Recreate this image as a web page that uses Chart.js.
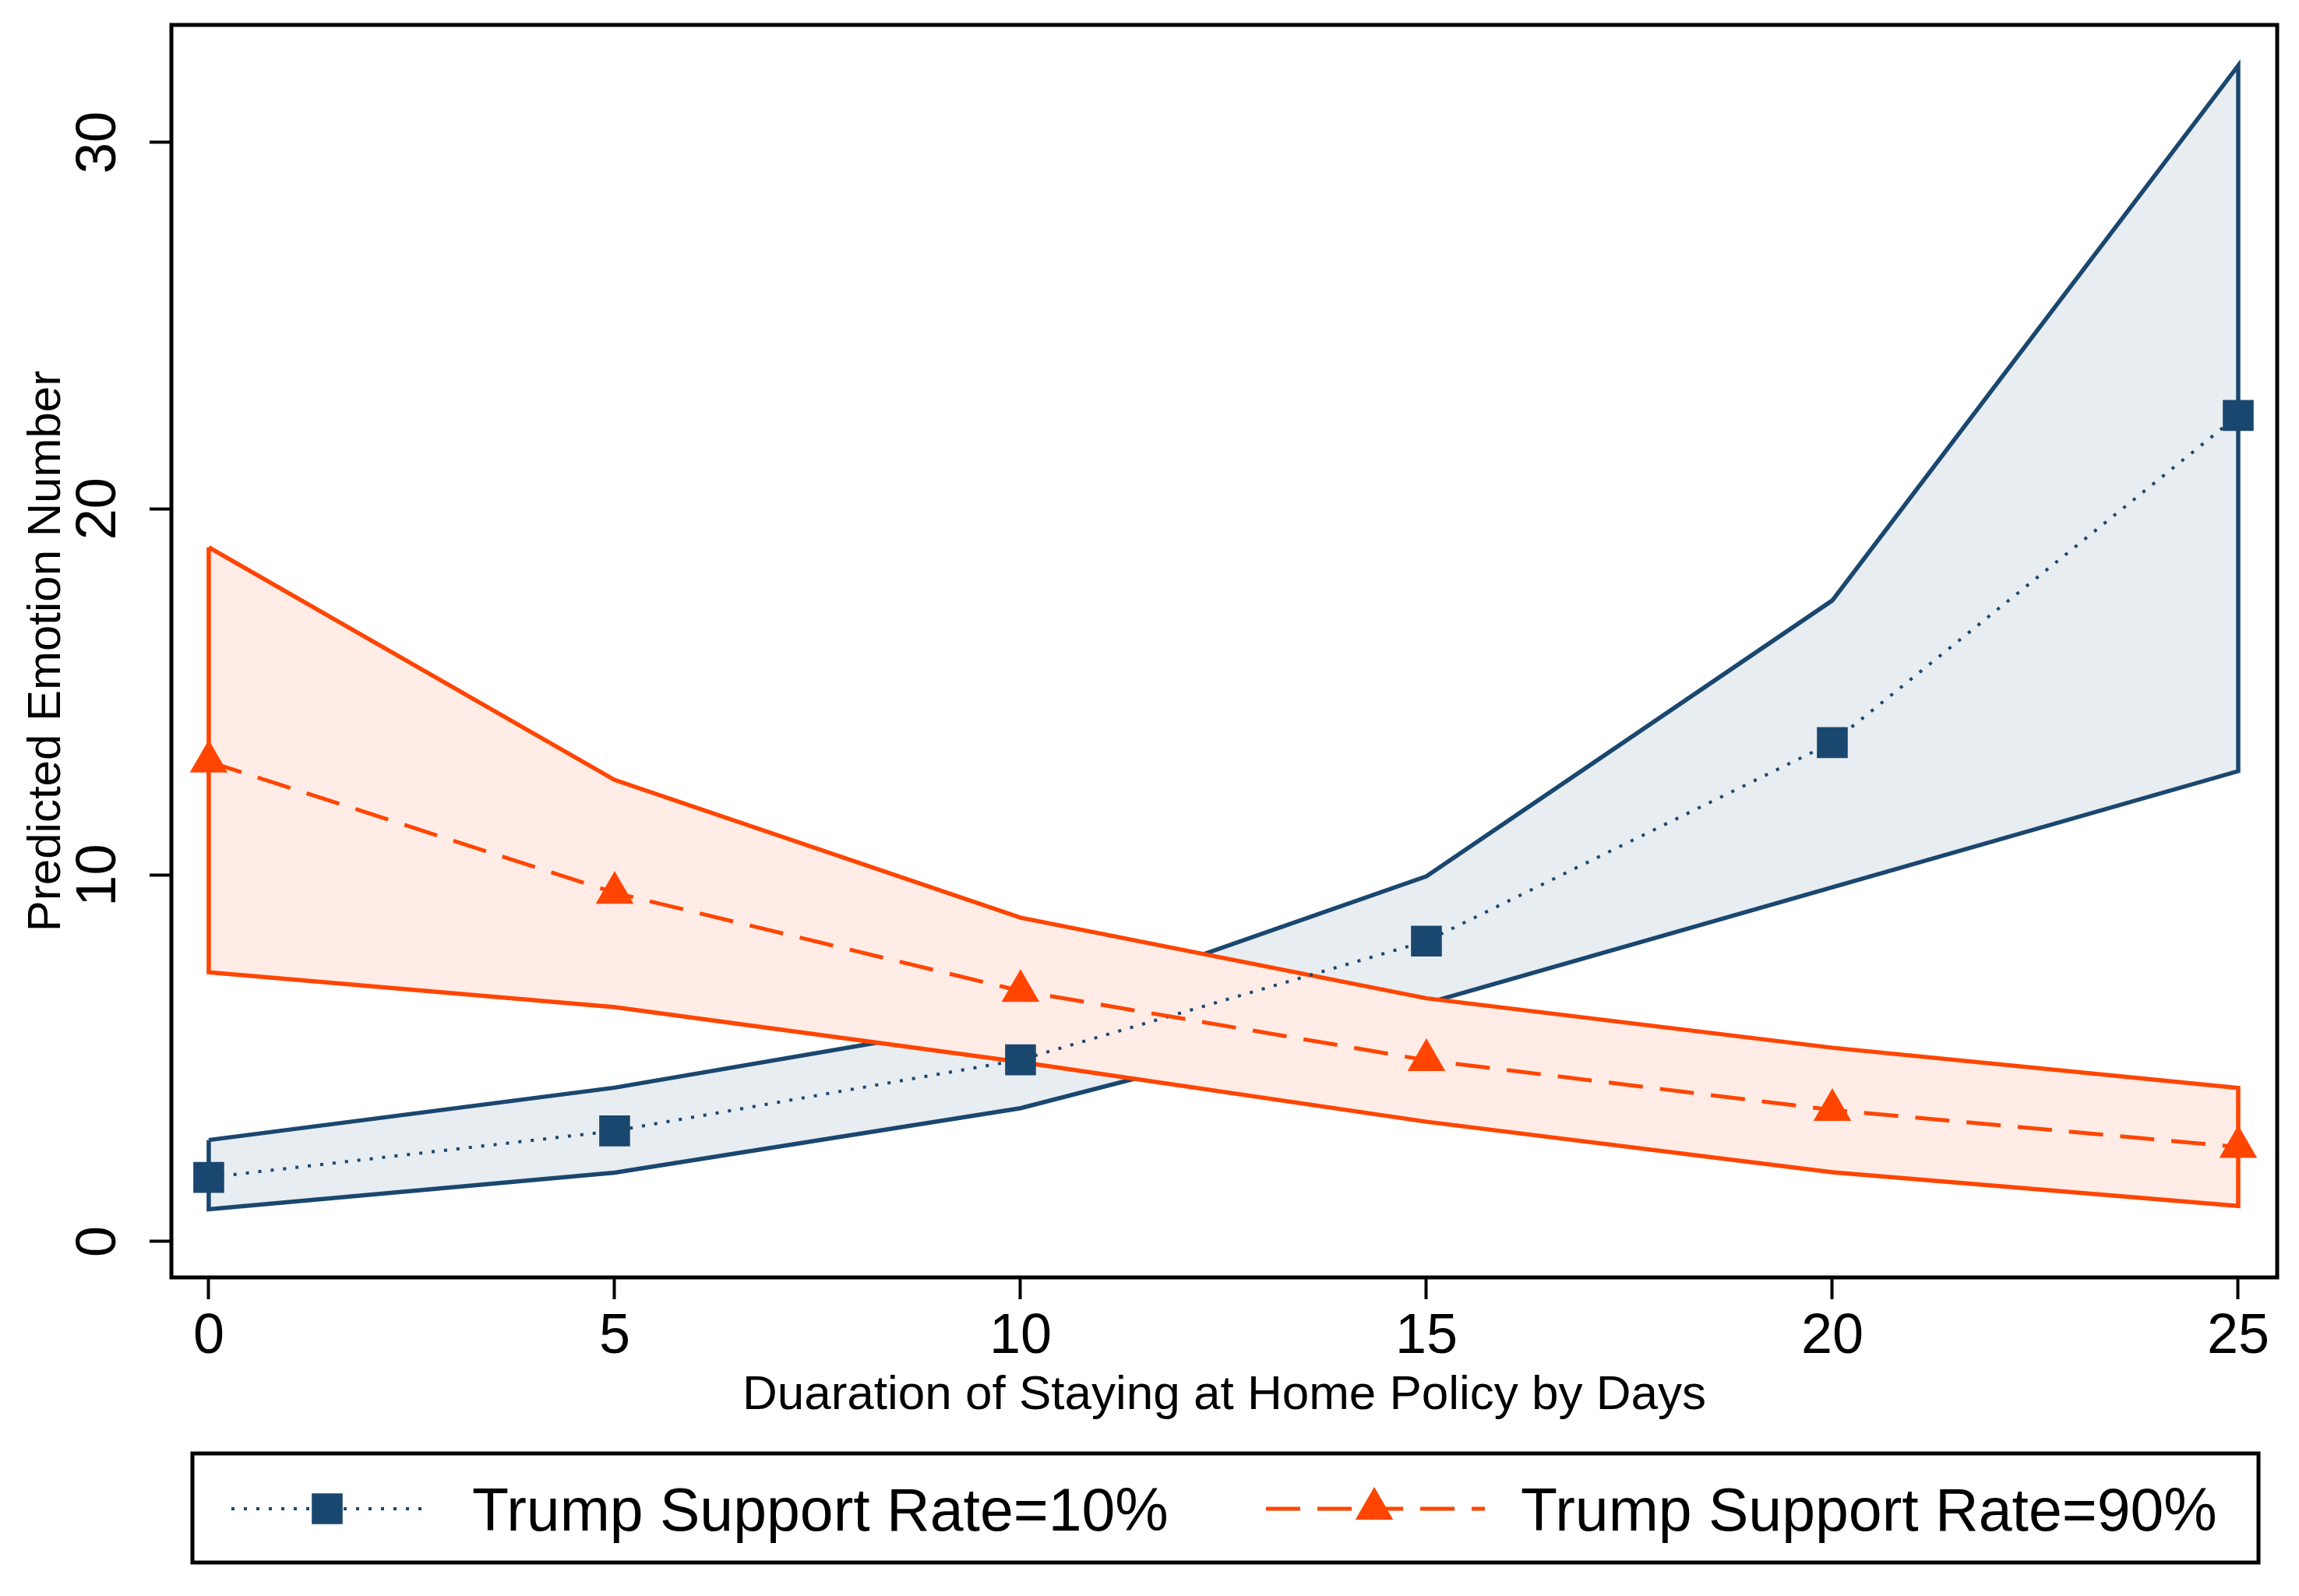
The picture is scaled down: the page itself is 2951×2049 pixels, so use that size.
<!DOCTYPE html>
<html>
<head>
<meta charset="utf-8">
<title>Predicted Emotion Number</title>
<script src="https://cdn.jsdelivr.net/npm/chart.js@4.4.1/dist/chart.umd.min.js"></script>
<style>
    html, body { margin: 0; padding: 0; background: #fff; }
    #wrap { width: 2951px; height: 2049px; }
</style>
</head>
<body>
<div id="wrap"><canvas id="emotionChart" width="2951" height="2049"></canvas></div>
<script>
// values
const days = [0, 5, 10, 15, 20, 25];
const xTicks = [0, 5, 10, 15, 20, 25];
const yTicks = [0, 10, 20, 30];

const low10Mean = [1.75, 3.02, 4.96, 8.2, 13.62, 22.55];
const low10Upper = [2.77, 4.2, 6.1, 9.97, 17.5, 32.1];
const low10Lower = [0.88, 1.88, 3.64, 6.5, 9.67, 12.84];

const high90Mean = [13.1, 9.52, 6.84, 4.95, 3.59, 2.58];
const high90Upper = [18.95, 12.6, 8.84, 6.64, 5.29, 4.19];
const high90Lower = [7.35, 6.4, 4.9, 3.27, 1.89, 0.97];

const legendLabels = ['Trump Support Rate=10%', 'Trump Support Rate=90%'];
const xTitle = 'Duaration of Staying at Home Policy by Days';
const yTitle = 'Predicted Emotion Number';

const NAVY = '#1a476f';
const NAVY_FILL = '#e8edf1';
const ORANGE = '#ff4500';
const ORANGE_FILL = '#ffece6';
const FONT = '"Liberation Sans", Arial, Helvetica, sans-serif';

function toPoints(xs, ys) {
    return xs.map((x, i) => ({ x: x, y: ys[i] }));
}

// closed outline of a confidence band: upper left->right, lower right->left
function bandOutline(xs, upper, lower) {
    const pts = toPoints(xs, upper);
    for (let i = xs.length - 1; i >= 0; i--) {
        pts.push({ x: xs[i], y: lower[i] });
    }
    pts.push({ x: xs[0], y: upper[0] });
    return pts;
}

function fillSet(data, color, fill, order) {
    return {
        data: data,
        fill: fill,
        backgroundColor: color,
        borderColor: 'rgba(0,0,0,0)',
        borderWidth: 0,
        pointRadius: 0,
        order: order
    };
}

function outlineSet(data, color, order) {
    return {
        data: data,
        fill: false,
        borderColor: color,
        borderWidth: 5.5,
        borderJoinStyle: 'miter',
        pointRadius: 0,
        order: order
    };
}

const framePlugin = {
    id: 'frame',
    afterDraw(chart) {
        const { ctx, chartArea: a } = chart;
        ctx.save();
        ctx.strokeStyle = '#000';
        ctx.lineWidth = 5;
        ctx.strokeRect(a.left, a.top, a.right - a.left, a.bottom - a.top);
        ctx.restore();
    }
};

function drawMarker(ctx, style, x, y, r, color) {
    ctx.fillStyle = color;
    ctx.beginPath();
    if (style === 'rect') {
        const s = r * Math.SQRT1_2;
        ctx.rect(x - s, y - s, 2 * s, 2 * s);
    } else {
        const h = r * Math.sqrt(3) / 2;
        ctx.moveTo(x, y - r);
        ctx.lineTo(x + h, y + r / 2);
        ctx.lineTo(x - h, y + r / 2);
        ctx.closePath();
    }
    ctx.fill();
}

const legendPlugin = {
    id: 'boxLegend',
    afterDraw(chart) {
        const ctx = chart.ctx;
        const sets = chart.data.datasets.filter(d => d.legendItem);
        const items = [
            { x0: 297, x1: 549, mx: 420, tx: 606 },
            { x0: 1625, x1: 1906, mx: 1764, tx: 1952 }
        ];
        const lineY = 1937;

        ctx.save();
        ctx.strokeStyle = '#000';
        ctx.lineWidth = 5;
        ctx.strokeRect(247, 1866, 2652, 140);

        sets.forEach((ds, i) => {
            const it = items[i];
            ctx.strokeStyle = ds.borderColor;
            ctx.lineWidth = ds.borderWidth;
            ctx.setLineDash(ds.borderDash || []);
            ctx.beginPath();
            ctx.moveTo(it.x0, lineY);
            ctx.lineTo(it.x1, lineY);
            ctx.stroke();
            ctx.setLineDash([]);
            drawMarker(ctx, ds.pointStyle, it.mx, lineY, ds.pointRadius, ds.pointBackgroundColor);

            ctx.fillStyle = '#000';
            ctx.font = '77px ' + FONT;
            ctx.textAlign = 'left';
            ctx.textBaseline = 'alphabetic';
            ctx.fillText(ds.label, it.tx, 1965);
        });
        ctx.restore();
    }
};

const tickGrid = {
    drawOnChartArea: false,
    drawTicks: true,
    tickLength: 28,
    tickWidth: 4,
    tickColor: '#000'
};

Chart.defaults.font.family = FONT;

const ctx = document.getElementById('emotionChart').getContext('2d');
new Chart(ctx, {
    type: 'line',
    data: {
        datasets: [
            fillSet(toPoints(days, low10Upper), NAVY_FILL, '+1', 8),
            fillSet(toPoints(days, low10Lower), NAVY_FILL, false, 7),
            outlineSet(bandOutline(days, low10Upper, low10Lower), NAVY, 6),
            fillSet(toPoints(days, high90Upper), ORANGE_FILL, '+1', 5),
            fillSet(toPoints(days, high90Lower), ORANGE_FILL, false, 4),
            outlineSet(bandOutline(days, high90Upper, high90Lower), ORANGE, 3),
            {
                label: legendLabels[0],
                legendItem: true,
                data: toPoints(days, low10Mean),
                fill: false,
                borderColor: NAVY,
                borderWidth: 4,
                borderDash: [4, 12],
                pointStyle: 'rect',
                pointRadius: 28,
                pointBackgroundColor: NAVY,
                pointBorderColor: NAVY,
                pointBorderWidth: 0,
                order: 2
            },
            {
                label: legendLabels[1],
                legendItem: true,
                data: toPoints(days, high90Mean),
                fill: false,
                borderColor: ORANGE,
                borderWidth: 5,
                borderDash: [44, 22],
                pointStyle: 'triangle',
                pointRadius: 28,
                pointBackgroundColor: ORANGE,
                pointBorderColor: ORANGE,
                pointBorderWidth: 0,
                order: 1
            }
        ]
    },
    options: {
        responsive: false,
        animation: false,
        devicePixelRatio: 1,
        layout: {
            padding: { top: 32, right: 26, bottom: 220, left: 0 }
        },
        plugins: {
            legend: { display: false },
            tooltip: { enabled: false },
            filler: { drawTime: 'beforeDatasetDraw' }
        },
        scales: {
            x: {
                type: 'linear',
                min: -0.46,
                max: 25.48,
                afterBuildTicks: axis => { axis.ticks = xTicks.map(v => ({ value: v })); },
                afterFit: axis => {
                    axis.height = 189;
                    axis.paddingLeft = 0;
                    axis.paddingRight = 0;
                },
                grid: tickGrid,
                border: { display: false },
                ticks: { color: '#000', font: { size: 72 }, padding: 6, maxRotation: 0, autoSkip: false },
                title: { display: true, text: xTitle, color: '#000', font: { size: 62 }, padding: 0 }
            },
            y: {
                type: 'linear',
                min: -0.98,
                max: 33.21,
                afterBuildTicks: axis => { axis.ticks = yTicks.map(v => ({ value: v })); },
                afterFit: axis => {
                    axis.width = 220;
                    axis.paddingTop = 0;
                    axis.paddingBottom = 0;
                },
                grid: tickGrid,
                border: { display: false },
                ticks: {
                    color: '#000',
                    font: { size: 72 },
                    padding: 24,
                    minRotation: 90,
                    maxRotation: 90,
                    crossAlign: 'center',
                    autoSkip: false
                },
                title: { display: true, text: yTitle, color: '#000', font: { size: 60 }, padding: { top: 24, bottom: 0 } }
            }
        }
    },
    plugins: [framePlugin, legendPlugin]
});
</script>
</body>
</html>
